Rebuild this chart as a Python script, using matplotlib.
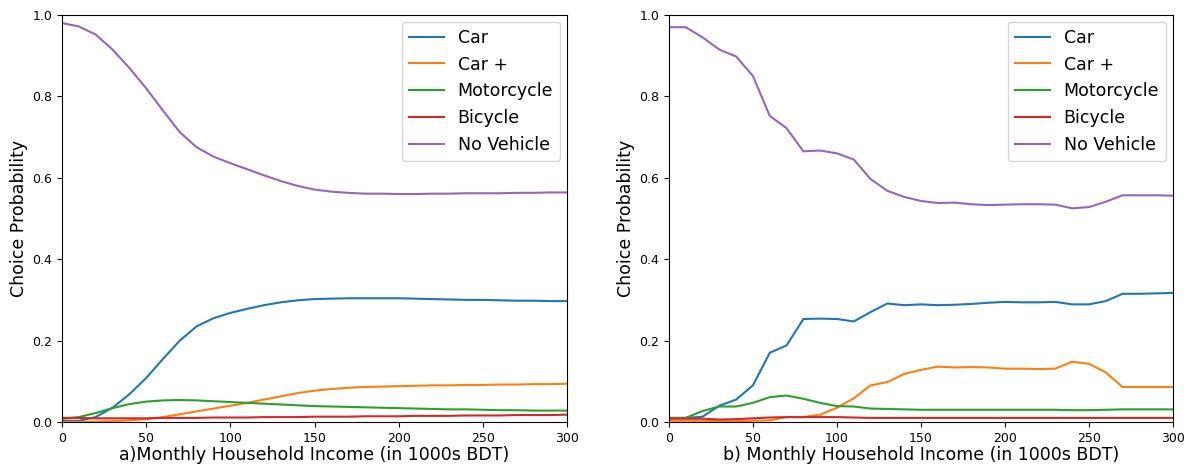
import numpy as np
import matplotlib
matplotlib.use("Agg")
import matplotlib.pyplot as plt

income = list(range(0, 301, 10))
labels = ["Car", "Car +", "Motorcycle", "Bicycle", "No Vehicle"]
colors = ["#1f77b4", "#ff7f0e", "#2ca02c", "#d62728", "#9467bd"]

# panel a) - smooth model curves
car_a = [0.003, 0.003, 0.012, 0.035, 0.068, 0.108, 0.155, 0.200, 0.235, 0.255, 0.268,
         0.278, 0.287, 0.294, 0.299, 0.302, 0.303, 0.304, 0.304, 0.304, 0.304,
         0.303, 0.302, 0.301, 0.300, 0.300, 0.299, 0.298, 0.298, 0.297, 0.297]
carplus_a = [0.000, 0.000, 0.001, 0.002, 0.004, 0.007, 0.012, 0.019, 0.026, 0.033, 0.040,
             0.047, 0.055, 0.063, 0.071, 0.077, 0.081, 0.084, 0.086, 0.087, 0.088,
             0.089, 0.090, 0.090, 0.091, 0.091, 0.092, 0.092, 0.093, 0.093, 0.094]
moto_a = [0.008, 0.012, 0.022, 0.034, 0.044, 0.050, 0.053, 0.054, 0.053, 0.051, 0.049,
          0.047, 0.045, 0.043, 0.041, 0.039, 0.038, 0.037, 0.036, 0.035, 0.034,
          0.033, 0.032, 0.031, 0.031, 0.030, 0.029, 0.029, 0.028, 0.028, 0.028]
bike_a = [0.010, 0.010, 0.009, 0.009, 0.009, 0.009, 0.010, 0.010, 0.010, 0.011, 0.011,
          0.011, 0.012, 0.012, 0.012, 0.013, 0.013, 0.013, 0.014, 0.014, 0.014,
          0.015, 0.015, 0.015, 0.016, 0.016, 0.016, 0.017, 0.017, 0.017, 0.018]
none_a = [0.980, 0.972, 0.952, 0.915, 0.870, 0.820, 0.765, 0.712, 0.675, 0.652, 0.636,
          0.621, 0.606, 0.592, 0.580, 0.571, 0.566, 0.563, 0.561, 0.561, 0.560,
          0.560, 0.561, 0.561, 0.562, 0.562, 0.562, 0.563, 0.563, 0.564, 0.564]

# panel b) - observed shares
car_b = [0.010, 0.010, 0.013, 0.040, 0.055, 0.090, 0.170, 0.188, 0.253, 0.254, 0.253,
         0.247, 0.270, 0.291, 0.287, 0.289, 0.287, 0.288, 0.290, 0.293, 0.295,
         0.294, 0.294, 0.295, 0.289, 0.289, 0.297, 0.315, 0.315, 0.316, 0.317]
carplus_b = [0.003, 0.003, 0.003, 0.002, 0.002, 0.003, 0.004, 0.012, 0.012, 0.018, 0.035,
             0.058, 0.090, 0.098, 0.118, 0.128, 0.136, 0.134, 0.135, 0.134, 0.131,
             0.131, 0.130, 0.131, 0.148, 0.143, 0.122, 0.086, 0.086, 0.086, 0.086]
moto_b = [0.010, 0.010, 0.027, 0.038, 0.038, 0.047, 0.061, 0.065, 0.057, 0.047, 0.039,
          0.038, 0.033, 0.032, 0.031, 0.030, 0.030, 0.030, 0.030, 0.030, 0.030,
          0.030, 0.030, 0.030, 0.029, 0.029, 0.030, 0.031, 0.031, 0.031, 0.031]
bike_b = [0.008, 0.008, 0.008, 0.006, 0.007, 0.009, 0.011, 0.012, 0.012, 0.012, 0.012,
          0.011, 0.010, 0.010, 0.010, 0.010, 0.010, 0.010, 0.010, 0.010, 0.010,
          0.010, 0.010, 0.010, 0.010, 0.010, 0.010, 0.010, 0.010, 0.010, 0.010]
none_b = [0.970, 0.970, 0.945, 0.915, 0.898, 0.850, 0.752, 0.722, 0.665, 0.667, 0.660,
          0.645, 0.597, 0.568, 0.553, 0.543, 0.538, 0.539, 0.535, 0.533, 0.534,
          0.535, 0.535, 0.534, 0.525, 0.528, 0.541, 0.557, 0.557, 0.557, 0.556]

panels = [
    ("a)Monthly Household Income (in 1000s BDT)", [car_a, carplus_a, moto_a, bike_a, none_a]),
    ("b) Monthly Household Income (in 1000s BDT)", [car_b, carplus_b, moto_b, bike_b, none_b]),
]

fig = plt.figure(figsize=(11.92, 4.67), dpi=100)
positions = [[0.052, 0.0964, 0.4237, 0.8715], [0.5612, 0.0964, 0.4228, 0.8715]]

for pos, (xlabel, series) in zip(positions, panels):
    ax = fig.add_axes(pos)
    for vals, lab, col in zip(series, labels, colors):
        ax.plot(income, vals, label=lab, color=col, linewidth=1.5)
    ax.set_xlim(0, 300)
    ax.set_ylim(0, 1.0)
    ax.tick_params(labelsize=9)
    ax.set_xlabel(xlabel, fontsize=12.5, labelpad=1)
    ax.set_ylabel("Choice Probability", fontsize=12.5, labelpad=3)
    ax.legend(loc="upper right", fontsize=12.5, borderaxespad=0.4)

fig.savefig("out.png", dpi=100)
